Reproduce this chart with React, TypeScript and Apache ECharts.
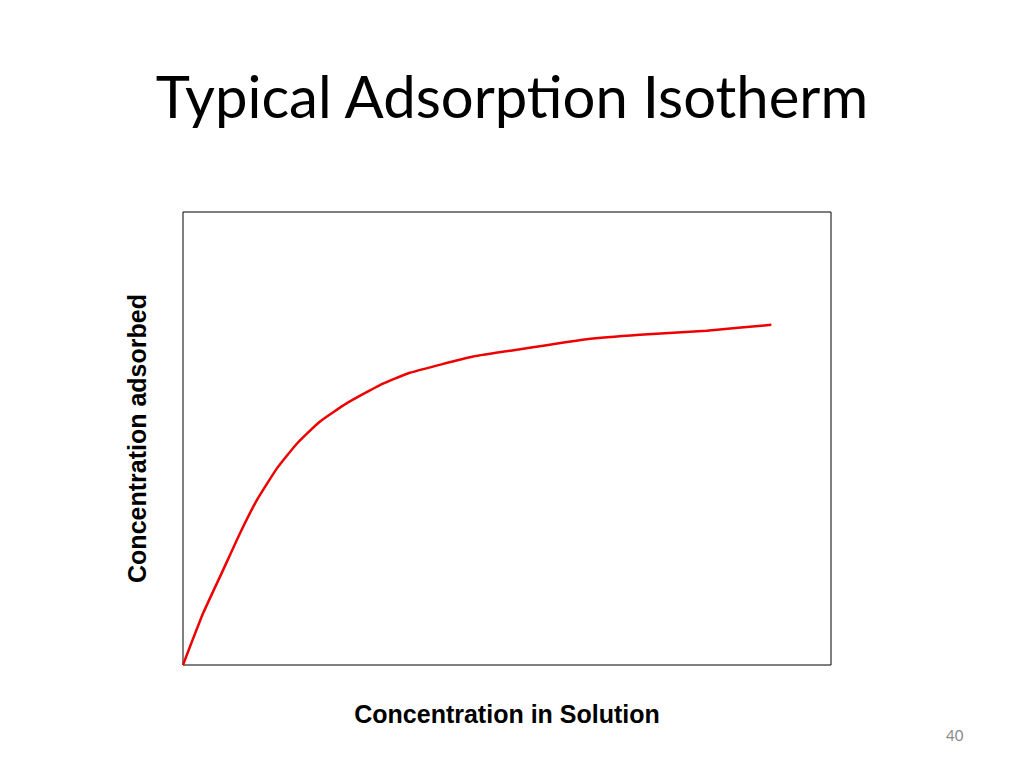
import React, { useEffect, useRef } from "react";
import * as echarts from "echarts";

const chartTitle = "Typical Adsorption Isotherm";
const xAxisTitle = "Concentration in Solution";
const yAxisTitle = "Concentration adsorbed";
const slideNumber = "40";

// Concentration in solution (arbitrary units, 0-100 frame)
const solutionConc = [0, 3.1, 6.2, 8.8, 11.4, 14.5, 17.6, 21.1, 25.3, 30.4, 35.0, 44.8, 53.0, 62.3, 70.5, 80.8, 90.8];
// Concentration adsorbed (arbitrary units, 0-100 frame)
const adsorbedConc = [0, 11.4, 21.0, 29.1, 36.4, 43.4, 48.9, 53.7, 57.8, 61.8, 64.5, 68.1, 69.9, 71.9, 72.9, 73.8, 75.1];

export default function App() {
  const ref = useRef<HTMLDivElement>(null);
  useEffect(() => {
    if (!ref.current) return;
    const chart = echarts.init(ref.current, undefined, { renderer: "svg" });
    const data = solutionConc.map((x, i) => [x, adsorbedConc[i]]);
    chart.setOption({
      animation: false,
      backgroundColor: "#ffffff",
      title: {
        text: chartTitle,
        left: "center",
        top: 61,
        textStyle: {
          fontFamily: "Lato",
          fontWeight: "normal",
          fontSize: 58,
          color: "#000000",
        },
      },
      grid: {
        left: 183,
        top: 212,
        width: 648,
        height: 453,
        show: true,
        borderColor: "#000000",
        borderWidth: 1,
        backgroundColor: "transparent",
      },
      xAxis: {
        type: "value",
        min: 0,
        max: 100,
        name: xAxisTitle,
        nameLocation: "middle",
        nameGap: 36,
        nameTextStyle: {
          fontFamily: "Liberation Sans",
          fontWeight: "bold",
          fontSize: 25,
          color: "#000000",
        },
        axisLine: { show: false },
        axisTick: { show: false },
        axisLabel: { show: false },
        splitLine: { show: false },
      },
      yAxis: {
        type: "value",
        min: 0,
        max: 100,
        name: yAxisTitle,
        nameLocation: "middle",
        nameGap: 34,
        nameTextStyle: {
          fontFamily: "Liberation Sans",
          fontWeight: "bold",
          fontSize: 25,
          color: "#000000",
        },
        axisLine: { show: false },
        axisTick: { show: false },
        axisLabel: { show: false },
        splitLine: { show: false },
      },
      graphic: [
        {
          type: "text",
          left: 946,
          top: 727,
          style: {
            text: slideNumber,
            fontFamily: "Lato",
            fontSize: 15,
            fill: "#8a8a8a",
          },
        },
      ],
      series: [
        {
          type: "line",
          data,
          showSymbol: false,
          symbol: "none",
          smooth: 0.15,
          lineStyle: { color: "#ee0000", width: 2.5, join: "round" },
        },
      ],
    });
    return () => chart.dispose();
  }, []);
  return (
    <div
      ref={ref}
      style={{ position: "fixed", left: 0, top: 0, width: 1024, height: 768 }}
    />
  );
}
